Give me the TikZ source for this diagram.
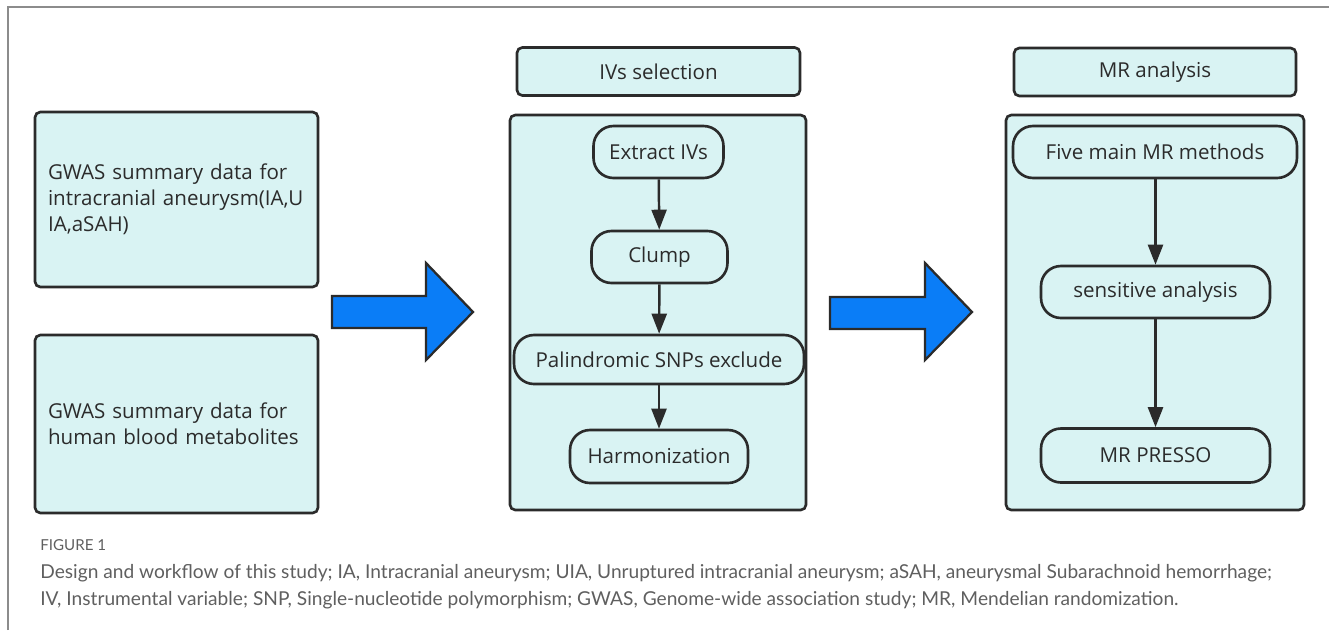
\documentclass[tikz,border=0pt]{standalone}
\usepackage{fontspec}
\setmainfont{Open Sans}
\newfontfamily\capfont{Lato}
\usepackage{tikz}
\usetikzlibrary{arrows.meta}
\definecolor{panel}{RGB}{217,243,243}
\definecolor{edge}{RGB}{43,43,43}
\definecolor{flow}{RGB}{10,125,247}
\definecolor{rule}{RGB}{140,140,140}
\definecolor{captxt}{RGB}{95,95,95}
\tikzset{
  databox/.style={draw=edge, fill=panel, line width=1.5pt, rounded corners=3pt,
    minimum width=5.66cm, inner xsep=0.26cm, text width=5.14cm, align=left,
    font=\fontsize{11.7}{14.8}\selectfont, text=edge,
    execute at begin node={\hyphenpenalty=10000\relax}},
  headbox/.style={draw=edge, fill=panel, line width=1.5pt, rounded corners=3pt,
    minimum height=0.96cm, font=\fontsize{11.7}{14}\selectfont, text=edge},
  stepnode/.style={draw=edge, fill=panel, line width=1.5pt, rounded corners=0.4cm,
    minimum height=1.04cm, font=\fontsize{11.7}{14}\selectfont, text=edge},
  flowarr/.style={-{Triangle[length=0.4cm, width=0.3cm]}, draw=edge, line width=1.4pt},
  bigarr/.style={draw=edge, fill=flow, line width=1.3pt, line join=miter},
}
\begin{document}
\begin{tikzpicture}[x=0.02cm, y=-0.02cm]
  \useasboundingbox (0,0) rectangle (1329,630);
  % outer frame (top and left only)
  \draw[rule, line width=1pt] (8,630) -- (8,7) -- (1329,7);

  % input data
  \node[databox, minimum height=3.5cm] (gwasia) at (176.5,199.5)
    {GWAS summary data for\\intracranial aneurysm(IA,U\\IA,aSAH)};
  \node[databox, minimum height=3.56cm] (gwasmet) at (176.5,424)
    {GWAS summary data for\\human blood metabolites};

  \draw[bigarr] (332,296) -- (426,296) -- (426,263) -- (473,312) -- (426,360)
    -- (426,328) -- (332,328) -- cycle;

  % IV selection
  \node[headbox, minimum width=5.66cm] (ivhead) at (658.5,71.5) {IVs selection};
  \draw[draw=edge, fill=panel, line width=1.5pt, rounded corners=3pt] (510,115) rectangle (806,510);
  \node[stepnode, minimum width=2.6cm] (extract) at (658.5,152) {Extract IVs};
  \node[stepnode, minimum width=2.72cm] (clump) at (659.5,257) {Clump};
  \node[stepnode, minimum width=5.8cm, minimum height=0.98cm] (palin) at (659,359.5) {Palindromic SNPs exclude};
  \node[stepnode, minimum width=3.56cm, minimum height=1.06cm] (harmon) at (659,456.5) {Harmonization};
  \draw[flowarr] (extract) -- (clump);
  \draw[flowarr] (clump) -- (palin);
  \draw[flowarr] (palin) -- (harmon);

  \draw[bigarr] (830,297) -- (925,297) -- (925,263) -- (972,312) -- (925,360)
    -- (925,329) -- (830,329) -- cycle;

  % MR analysis
  \node[headbox, minimum width=5.64cm] (mrhead) at (1155,72) {MR analysis};
  \draw[draw=edge, fill=panel, line width=1.5pt, rounded corners=3pt] (1006,115) rectangle (1304,510);
  \node[stepnode, minimum width=5.68cm] (fivemr) at (1155,152) {Five main MR methods};
  \node[stepnode, minimum width=4.58cm] (sens) at (1155.5,292) {sensitive analysis};
  \node[stepnode, minimum width=4.58cm, minimum height=1.08cm] (presso) at (1155.5,455.5) {MR PRESSO};
  \draw[flowarr] (fivemr.south -| sens) -- (sens);
  \draw[flowarr] (sens) -- (presso);

  % caption
  \node[anchor=west, inner sep=0, text=captxt, font=\capfont\fontsize{8.6}{10}\selectfont] (fig) at (40,545) {FIGURE 1};
  \node[anchor=west, inner sep=0, text=captxt, font=\capfont\fontsize{10.9}{12}\selectfont] (capa) at (40,573)
    {Design and workflow of this study; IA, Intracranial aneurysm; UIA, Unruptured intracranial aneurysm; aSAH, aneurysmal Subarachnoid hemorrhage;};
  \node[anchor=west, inner sep=0, text=captxt, font=\capfont\fontsize{10.9}{12}\selectfont] (capb) at (40,600)
    {IV, Instrumental variable; SNP, Single-nucleotide polymorphism; GWAS, Genome-wide association study; MR, Mendelian randomization.};
\end{tikzpicture}
\end{document}
